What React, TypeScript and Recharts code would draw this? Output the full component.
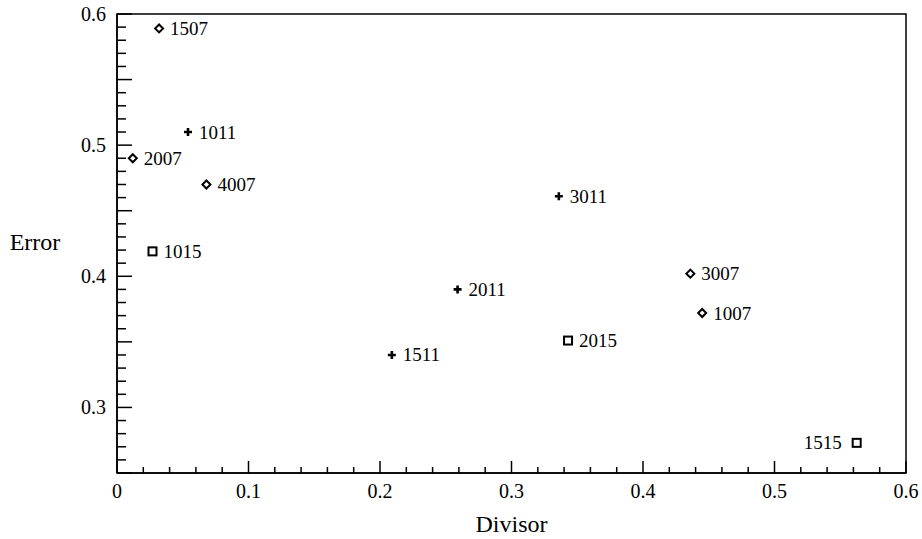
import React from 'react'
import { ScatterChart, Scatter, XAxis, YAxis, ReferenceArea, Label } from 'recharts'

// point names and values
const diamondNames = ['1507', '2007', '4007', '3007', '1007']
const diamondX = [0.032, 0.012, 0.068, 0.436, 0.445]
const diamondY = [0.589, 0.49, 0.47, 0.402, 0.372]

const crossNames = ['1011', '3011', '2011', '1511']
const crossX = [0.054, 0.336, 0.259, 0.209]
const crossY = [0.51, 0.461, 0.39, 0.34]

const squareNames = ['1015', '2015', '1515']
const squareX = [0.027, 0.343, 0.5625]
const squareY = [0.419, 0.351, 0.273]

// labels drawn on the left of their marker
const leftLabels = ['1515']

const xMajor = [0, 0.1, 0.2, 0.3, 0.4, 0.5, 0.6]
const yMajor = [0.3, 0.4, 0.5, 0.6]

const xTicks = Array.from({ length: 31 }, (_, i) => Number((i * 0.02).toFixed(2)))
const yTicks = Array.from({ length: 36 }, (_, i) => Number((0.25 + i * 0.01).toFixed(2)))

const build = (names: string[], xs: number[], ys: number[]) =>
  names.map((name, i) => ({ name, x: xs[i], y: ys[i] }))

const diamonds = build(diamondNames, diamondX, diamondY)
const crosses = build(crossNames, crossX, crossY)
const squares = build(squareNames, squareX, squareY)

const FONT = '"Liberation Serif", "Times New Roman", serif'
const isMajor = (v: number, list: number[]) => list.some((m) => Math.abs(m - v) < 1e-6)

const XTick = (props: any) => {
  const { x, y, payload } = props
  const v = payload.value
  const major = isMajor(v, xMajor)
  return (
    <g>
      <line x1={x} x2={x} y1={y} y2={y - (major ? 12 : 6)} stroke="#000" strokeWidth={1.5} />
      {major && (
        <text x={x} y={y + 18} textAnchor="middle" dominantBaseline="central" fontFamily={FONT} fontSize={20} fill="#000">
          {v === 0 ? '0' : v.toFixed(1)}
        </text>
      )}
    </g>
  )
}

const YTick = (props: any) => {
  const { x, y, payload } = props
  const v = payload.value
  const major = isMajor(v, yMajor)
  const mid = Math.abs(Math.round(v * 100) % 5) === 0
  return (
    <g>
      <line x1={x} x2={x + (mid ? 15 : 9)} y1={y} y2={y} stroke="#000" strokeWidth={1.5} />
      {major && (
        <text x={x - 11} y={y} textAnchor="end" dominantBaseline="central" fontFamily={FONT} fontSize={20} fill="#000">
          {v.toFixed(1)}
        </text>
      )}
    </g>
  )
}

const PointLabel = ({ cx, cy, name }: { cx: number; cy: number; name: string }) => {
  const left = leftLabels.includes(name)
  return (
    <text
      x={left ? cx - 15 : cx + 11}
      y={cy}
      textAnchor={left ? 'end' : 'start'}
      dominantBaseline="central"
      fontFamily={FONT}
      fontSize={19}
      fill="#000"
    >
      {name}
    </text>
  )
}

const Diamond = (props: any) => {
  const { cx, cy, payload } = props
  const r = 4
  return (
    <g>
      <path d={`M${cx},${cy - r}L${cx + r},${cy}L${cx},${cy + r}L${cx - r},${cy}Z`} fill="#fff" stroke="#000" strokeWidth={2} />
      <PointLabel cx={cx} cy={cy} name={payload.name} />
    </g>
  )
}

const Cross = (props: any) => {
  const { cx, cy, payload } = props
  const r = 4
  return (
    <g>
      <path d={`M${cx - r},${cy}H${cx + r}M${cx},${cy - r}V${cy + r}`} stroke="#000" strokeWidth={2.6} />
      <PointLabel cx={cx} cy={cy} name={payload.name} />
    </g>
  )
}

const Square = (props: any) => {
  const { cx, cy, payload } = props
  const r = 4
  return (
    <g>
      <rect x={cx - r} y={cy - r} width={2 * r} height={2 * r} fill="#fff" stroke="#000" strokeWidth={2} />
      <PointLabel cx={cx} cy={cy} name={payload.name} />
    </g>
  )
}

export default function App() {
  return (
    <div style={{ position: 'absolute', left: 0, top: 0, background: '#fff' }}>
      <ScatterChart width={922} height={539} margin={{ top: 14, right: 16, left: 0, bottom: 0 }}>
        <XAxis
          type="number"
          dataKey="x"
          domain={[0, 0.6]}
          ticks={xTicks}
          interval={0}
          allowDataOverflow
          height={66}
          tickSize={0}
          tickMargin={0}
          tickLine={false}
          tick={<XTick />}
          axisLine={{ stroke: '#000', strokeWidth: 1.5 }}
        >
          <Label value="Divisor" position="insideBottom" offset={7} style={{ fontFamily: FONT, fontSize: 24, fill: '#000' }} />
        </XAxis>
        <YAxis
          type="number"
          dataKey="y"
          domain={[0.25, 0.6]}
          ticks={yTicks}
          interval={0}
          allowDataOverflow
          width={117}
          tickSize={0}
          tickMargin={0}
          tickLine={false}
          tick={<YTick />}
          axisLine={{ stroke: '#000', strokeWidth: 1.5 }}
        >
          <Label
            content={(p: any) => (
              <text x={35} y={p.viewBox.y + p.viewBox.height / 2 - 2} textAnchor="middle" dominantBaseline="central" fontFamily={FONT} fontSize={24} fill="#000">
                Error
              </text>
            )}
          />
        </YAxis>
        <ReferenceArea x1={0} x2={0.6} y1={0.25} y2={0.6} fill="none" stroke="#000" strokeWidth={1.5} />
        <Scatter data={diamonds} shape={<Diamond />} isAnimationActive={false} />
        <Scatter data={crosses} shape={<Cross />} isAnimationActive={false} />
        <Scatter data={squares} shape={<Square />} isAnimationActive={false} />
      </ScatterChart>
    </div>
  )
}
